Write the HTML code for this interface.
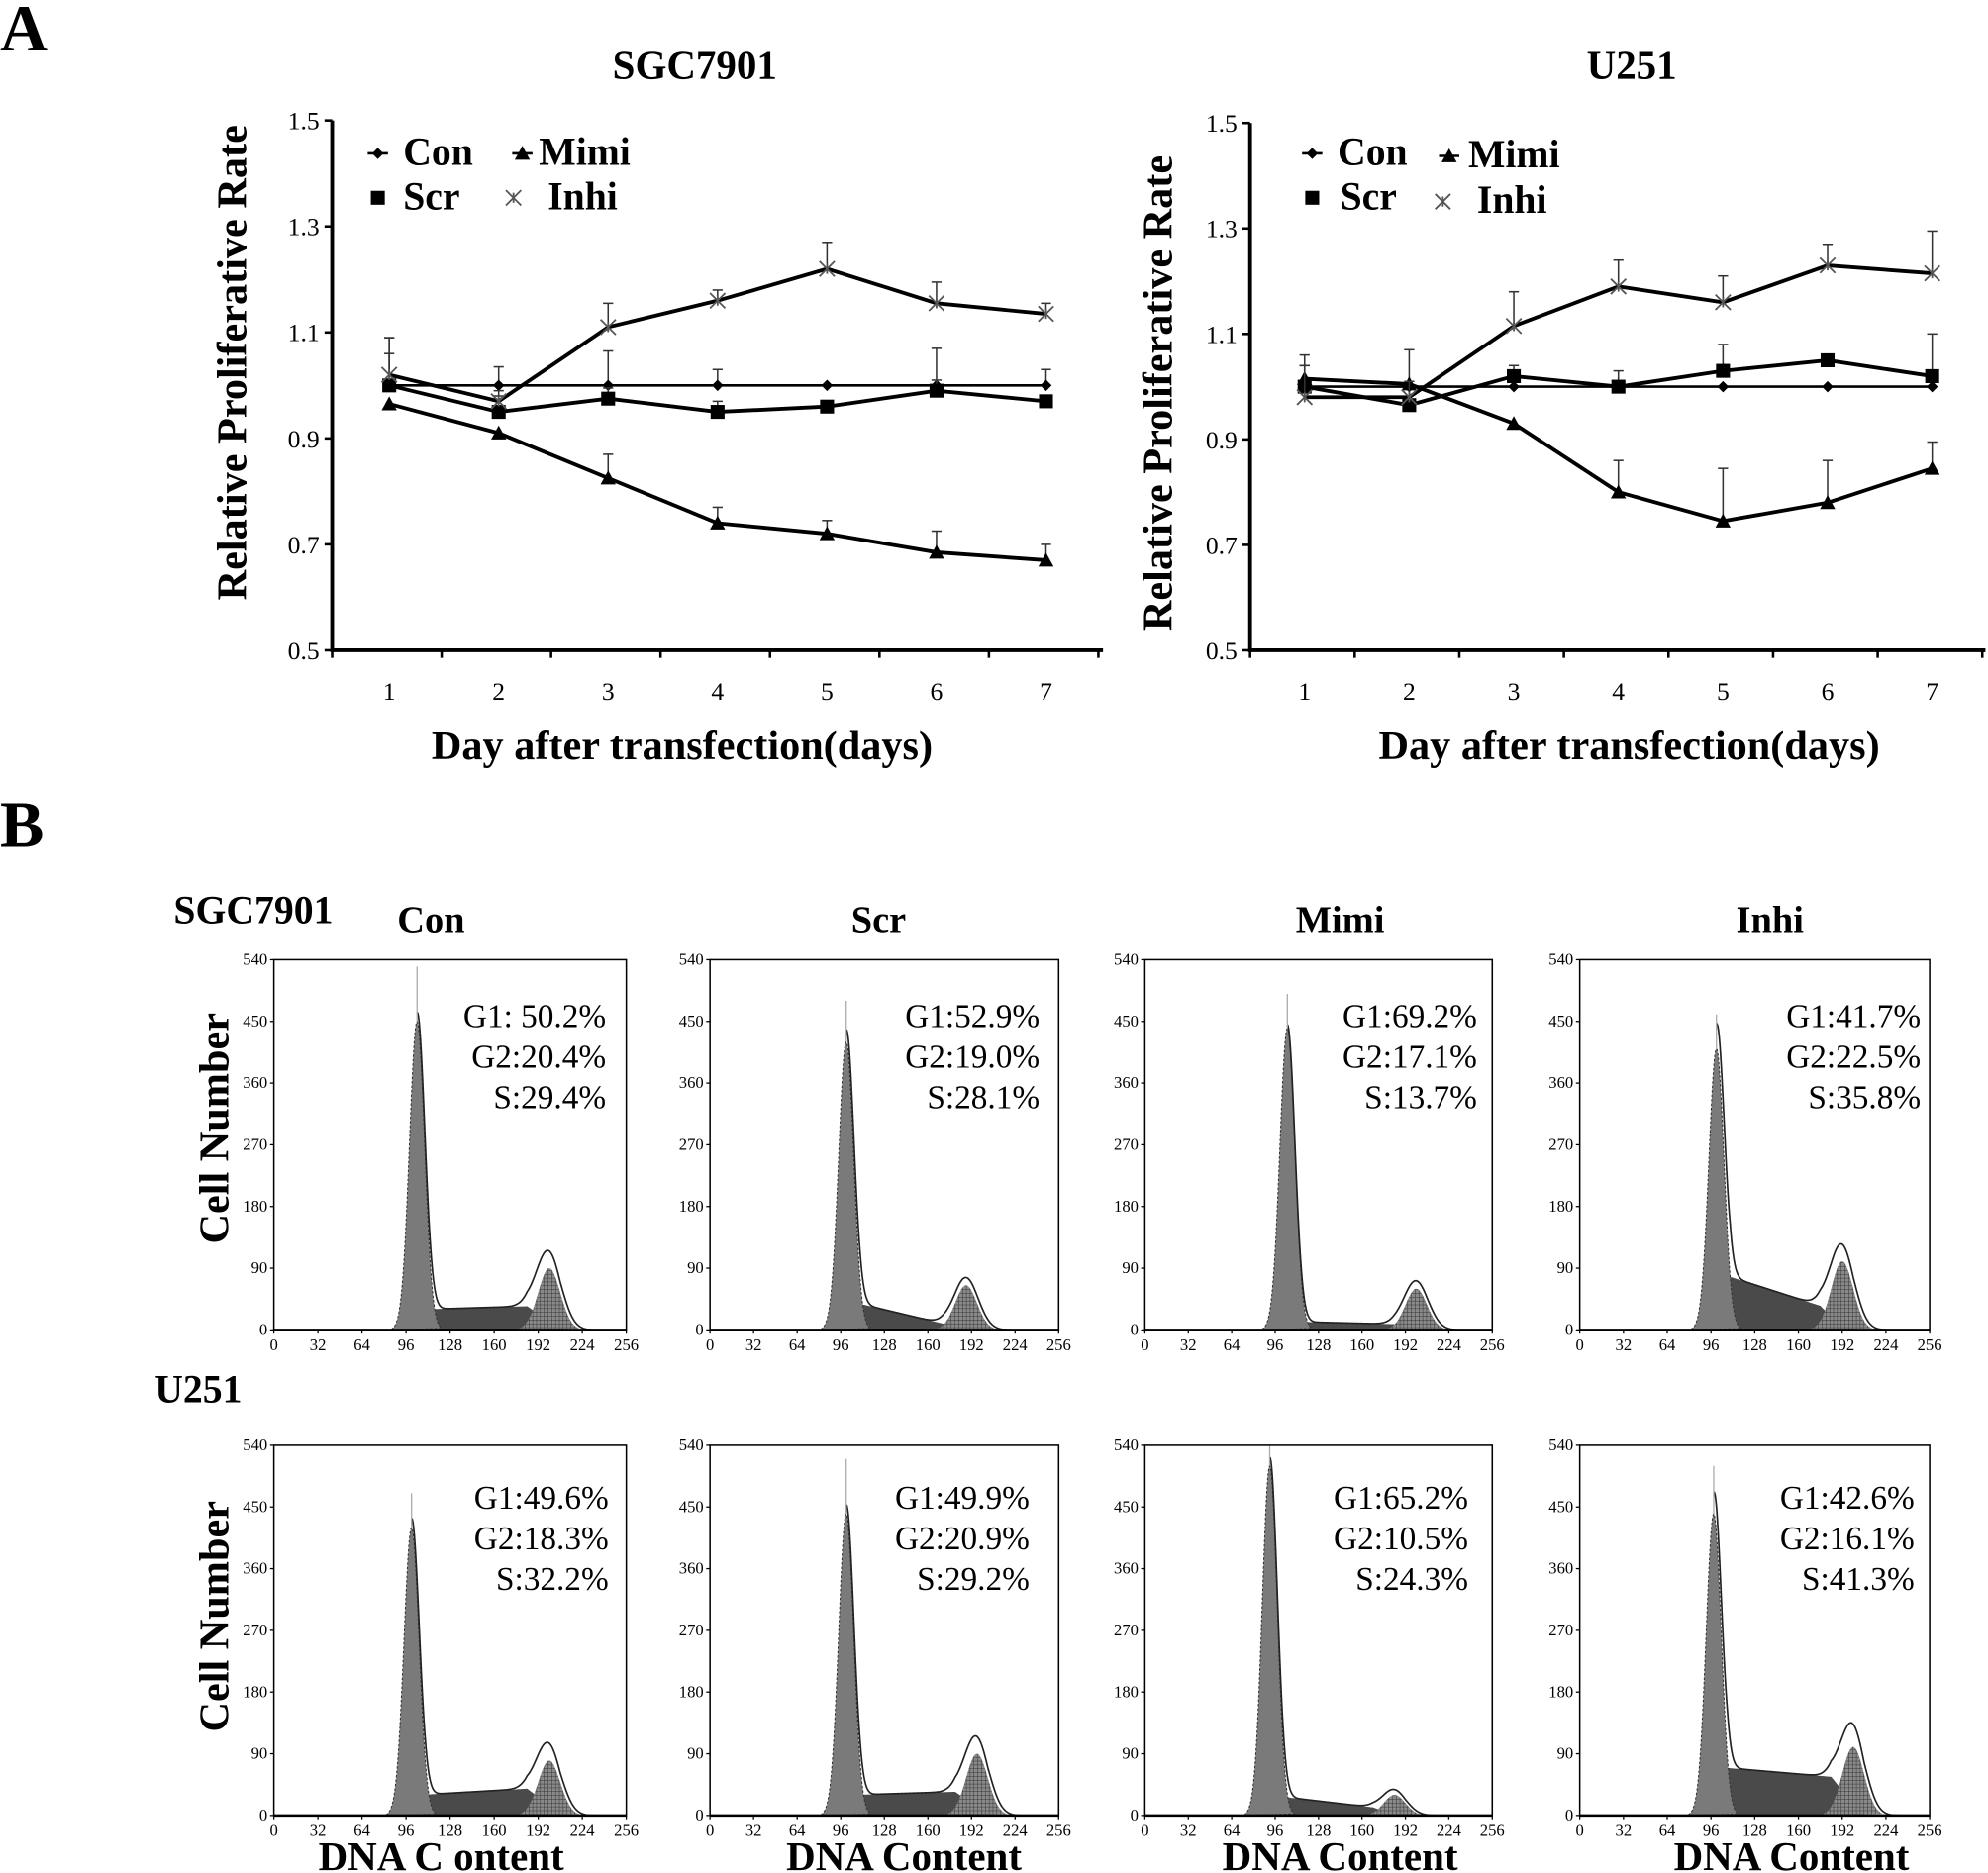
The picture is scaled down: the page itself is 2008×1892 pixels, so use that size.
<!DOCTYPE html>
<html><head><meta charset="utf-8"><style>
html,body{margin:0;padding:0;background:#fff;}
svg{display:block;font-family:"Liberation Serif",serif;}
</style></head><body>
<svg id="fig" width="2008" height="1892" viewBox="0 0 1568 1477.4" preserveAspectRatio="none" xmlns="http://www.w3.org/2000/svg">
<defs>
<pattern id="hatch" width="3" height="3" patternUnits="userSpaceOnUse"><rect width="3" height="3" fill="#8a8a8a"/><path d="M0 0H3M0 0V3" stroke="#333" stroke-width="0.8"/></pattern>
</defs>
<text x="0" y="40" font-size="52" font-weight="bold">A</text>
<text x="0" y="668" font-size="52" font-weight="bold">B</text>
<g id="charts"></g>
<g id="hists"></g>
</svg>
<script>
const days = [1,2,3,4,5,6,7];
const yTicks = [0.5,0.7,0.9,1.1,1.3,1.5];
const seriesNames = ["Con","Scr","Mimi","Inhi"];
// SGC7901
const sgcCon = [1.00,1.00,1.00,1.00,1.00,1.00,1.00];
const sgcConErr = [0.09,0.035,0.065,0.03,0,0.07,0.03];
const sgcScr = [1.00,0.95,0.975,0.95,0.96,0.99,0.97];
const sgcScrErr = [0.06,0.03,0.02,0.02,0.01,0.02,0.01];
const sgcMimi = [0.965,0.91,0.825,0.74,0.72,0.685,0.67];
const sgcMimiErr = [0,0,0.045,0.03,0.025,0.04,0.03];
const sgcInhi = [1.02,0.97,1.11,1.16,1.22,1.155,1.135];
const sgcInhiErr = [0.07,0.02,0.045,0.02,0.05,0.04,0.02];
// U251
const uCon = [1.00,1.00,1.00,1.00,1.00,1.00,1.00];
const uConErr = [0.04,0,0,0,0,0,0];
const uScr = [1.00,0.965,1.02,1.00,1.03,1.05,1.02];
const uScrErr = [0.04,0.105,0.02,0.03,0.05,0.01,0.08];
const uMimi = [1.015,1.005,0.93,0.80,0.745,0.78,0.845];
const uMimiErr = [0.045,0,0,0.06,0.1,0.08,0.05];
const uInhi = [0.98,0.98,1.115,1.19,1.16,1.23,1.215];
const uInhiErr = [0.06,0.03,0.065,0.05,0.05,0.04,0.08];

const NS="http://www.w3.org/2000/svg";
function mk(tag,attrs,parent,text){const e=document.createElementNS(NS,tag);for(const k in attrs)e.setAttribute(k,attrs[k]);if(text!==undefined)e.textContent=text;parent.appendChild(e);return e;}

function marker(g,type,x,y){
  if(type==="Con") return mk("path",{d:`M${x} ${y-4.5}L${x+4.5} ${y}L${x} ${y+4.5}L${x-4.5} ${y}Z`,fill:"#000"},g);
  if(type==="Scr") return mk("rect",{x:x-5.5,y:y-5.5,width:11,height:11,fill:"#000"},g);
  if(type==="Mimi") return mk("path",{d:`M${x} ${y-6}L${x+6} ${y+5}L${x-6} ${y+5}Z`,fill:"#000"},g);
  return mk("path",{d:`M${x-6} ${y-6}L${x+6} ${y+6}M${x-6} ${y+6}L${x+6} ${y-6}M${x} ${y-4}V${y+4}`,stroke:"#555","stroke-width":1.4,fill:"none"},g);
}

function chart(cfg){
  const root=document.getElementById("charts");
  const g=mk("g",{},root);
  
  
  const X=d=>cfg.x1+(d-1)*(cfg.x7-cfg.x1)/6;
  const Y=v=>cfg.y0+(v-0.5)/(1.0)*(cfg.y1-cfg.y0);
  const t=mk("text",{x:cfg.tx,y:62,"font-size":32,"font-weight":"bold","text-anchor":"middle"},g,cfg.title);
  
  
  mk("line",{x1:cfg.ax,y1:Y(1.5),x2:cfg.ax,y2:Y(0.5)+1.5,stroke:"#000","stroke-width":3},g);
  mk("line",{x1:cfg.ax,y1:Y(0.5),x2:cfg.axEnd,y2:Y(0.5),stroke:"#000","stroke-width":3},g);
  yTicks.forEach(v=>{
    mk("line",{x1:cfg.ax-6,y1:Y(v),x2:cfg.ax,y2:Y(v),stroke:"#000","stroke-width":2},g);
    const l=mk("text",{x:cfg.ax-10,y:Y(v)+7,"font-size":20,"text-anchor":"end"},g,v.toFixed(1));
    
    
  });
  const sp=(cfg.x7-cfg.x1)/6;
  for(let i=0;i<=7;i++){const xx=cfg.ax+i*sp;mk("line",{x1:xx,y1:Y(0.5),x2:xx,y2:Y(0.5)+6,stroke:"#000","stroke-width":2},g);}
  days.forEach(d=>{
    const l=mk("text",{x:X(d),y:Y(0.5)+39,"font-size":20,"text-anchor":"middle"},g,String(d));
    
    
  });
  const yt=mk("text",{x:0,y:0,"font-size":33,"font-weight":"bold","text-anchor":"middle",transform:`translate(${cfg.ylx},${cfg.yly}) rotate(-90)`},g,"Relative Proliferative Rate");
  
  
  const xt=mk("text",{x:cfg.xtx,y:599,"font-size":33,"font-weight":"bold","text-anchor":"middle"},g,"Day after transfection(days)");
  
  
  cfg.series.forEach(s=>{
    const sg=mk("g",{},g);
    
    
    s.vals.forEach((v,i)=>{ if(s.err[i]>0) {
      mk("line",{x1:X(days[i]),y1:Y(v),x2:X(days[i]),y2:Y(v+s.err[i]),stroke:"#333","stroke-width":1.2},sg);
      mk("line",{x1:X(days[i])-4,y1:Y(v+s.err[i]),x2:X(days[i])+4,y2:Y(v+s.err[i]),stroke:"#333","stroke-width":1.2},sg);}});
    mk("polyline",{points:s.vals.map((v,i)=>X(days[i])+","+Y(v)).join(" "),fill:"none",stroke:"#000","stroke-width":s.name==="Con"?2:3},sg);
    s.vals.forEach((v,i)=>{const m=marker(sg,s.name,X(days[i]),Y(v));
      
      });
  });
  const lg=mk("g",{},g);
  
  
  cfg.legend.forEach(e=>{
    marker(lg,e.n,e.mx,e.y-9);
    if(e.n==="Con"||e.n==="Mimi") mk("line",{x1:e.mx-8,y1:e.y-9,x2:e.mx+8,y2:e.y-9,stroke:"#000","stroke-width":2},lg);
    const tx=mk("text",{x:e.tx,y:e.y,"font-size":31,"font-weight":"bold"},lg,e.n);
    
    
  });
}
chart({name:"chart-sgc7901",title:"SGC7901",tx:548,ax:262,axEnd:870,x1:307,x7:825,y0:513,y1:95,ylx:194,yly:286,xtx:538,
  series:[{name:"Con",vals:sgcCon,err:sgcConErr},{name:"Scr",vals:sgcScr,err:sgcScrErr},{name:"Mimi",vals:sgcMimi,err:sgcMimiErr},{name:"Inhi",vals:sgcInhi,err:sgcInhiErr}],
  legend:[{n:"Con",mx:298,tx:318,y:130},{n:"Mimi",mx:412,tx:425,y:130},{n:"Scr",mx:298,tx:318,y:165},{n:"Inhi",mx:405,tx:432,y:165}]});
chart({name:"chart-u251",title:"U251",tx:1287,ax:986,axEnd:1566,x1:1029,x7:1524,y0:513,y1:97,ylx:924,yly:310,xtx:1285,
  series:[{name:"Con",vals:uCon,err:uConErr},{name:"Scr",vals:uScr,err:uScrErr},{name:"Mimi",vals:uMimi,err:uMimiErr},{name:"Inhi",vals:uInhi,err:uInhiErr}],
  legend:[{n:"Con",mx:1035,tx:1055,y:130},{n:"Mimi",mx:1143,tx:1158,y:132},{n:"Scr",mx:1035,tx:1057,y:165},{n:"Inhi",mx:1138,tx:1165,y:168}]});

// Histograms (row-major: SGC7901 Con,Scr,Mimi,Inhi ; U251 Con,Scr,Mimi,Inhi)
const histConditions = ["Con","Scr","Mimi","Inhi"];
const g1Pos = [104,100,105,100, 100,100,92,98];
const g1Height = [450,420,440,410, 420,440,510,440];
const g1Raw = [530,480,490,460, 470,520,540,510];
const g2Pos = [200,188,200,192, 200,196,184,200];
const g2Height = [90,65,60,100, 80,90,30,100];
const sStart = [30,40,12,80, 30,30,28,70];
const sEnd = [35,5,8,30, 40,35,10,55];
const g1Pct = ["G1: 50.2%","G1:52.9%","G1:69.2%","G1:41.7%","G1:49.6%","G1:49.9%","G1:65.2%","G1:42.6%"];
const g2Pct = ["G2:20.4%","G2:19.0%","G2:17.1%","G2:22.5%","G2:18.3%","G2:20.9%","G2:10.5%","G2:16.1%"];
const sPct = ["S:29.4%","S:28.1%","S:13.7%","S:35.8%","S:32.2%","S:29.2%","S:24.3%","S:41.3%"];
const xTicksH = [0,32,64,96,128,160,192,224,256];
const yTicksH = [0,90,180,270,360,450,540];

const colX=[216,560,903,1246], colW=[278,275,274,276];
const rowY=[757,1140], rowH=[292,292];
const statEnd=[478,820,1165,1515, 480,812,1158,1510];
const statY=[810,1190];
const hroot=document.getElementById("hists");
function lbl(txt,x,y,fs,name,extra){const t=mk("text",Object.assign({x:x,y:y,"font-size":fs,"font-weight":"bold"},extra||{}),hroot,txt);}
lbl("SGC7901",137,728,31,"row-label-sgc7901");
lbl("U251",122,1106,31,"row-label-u251");
[["Con",340],["Scr",693],["Mimi",1057],["Inhi",1396]].forEach(c=>lbl(c[0],c[1],735,30,"column-title-"+c[0].toLowerCase(),{"text-anchor":"middle"}));
lbl("Cell Number",0,0,33,"cell-number-title-row1",{"text-anchor":"middle",transform:"translate(180,890) rotate(-90)"});
lbl("Cell Number",0,0,33,"cell-number-title-row2",{"text-anchor":"middle",transform:"translate(180,1275) rotate(-90)"});
[["DNA C ontent",348],["DNA Content",713],["DNA Content",1057],["DNA Content",1413]].forEach((c,i)=>lbl(c[0],c[1],1475,32,"x-axis-title-col"+(i+1),{"text-anchor":"middle"}));

function gauss(x,m,s){return Math.exp(-0.5*((x-m)/s)**2);}
for(let p=0;p<8;p++){
  const r=Math.floor(p/4), c=p%4;
  const bx=colX[c], by=rowY[r], bw=colW[c], bh=rowH[r];
  const X=ch=>bx+ch/256*bw, Y=v=>by+bh-v/540*bh;
  const g=mk("g",{},hroot);
  
  
  const sA=g1Pos[p]+6, sB=g2Pos[p]-8;
  const sVal=ch=>{
    let rise=Math.min(1,Math.max(0,(ch-(g1Pos[p]-8))/18));
    let fall=Math.min(1,Math.max(0,((g2Pos[p]+8)-ch)/24));
    let t=(ch-sA)/(sB-sA); t=Math.min(1,Math.max(0,t));
    return (sStart[p]+(sEnd[p]-sStart[p])*t)*rise*fall;
  };
  let dS="M"+X(g1Pos[p]-8)+","+Y(0);
  for(let ch=g1Pos[p]-8;ch<=g2Pos[p]+8;ch+=1) dS+="L"+X(ch)+","+Y(sVal(ch));
  mk("path",{d:dS+"L"+X(g2Pos[p]+8)+","+Y(0)+"Z",fill:"#4a4a4a"},g);
  const s1=5.5;
  let d1="M"+X(g1Pos[p]-18)+","+Y(0);
  for(let ch=g1Pos[p]-18;ch<=g1Pos[p]+18;ch+=0.5) d1+="L"+X(ch)+","+Y(g1Height[p]*gauss(ch,g1Pos[p],s1));
  mk("path",{d:d1+"Z",fill:"#7a7a7a",stroke:"#333","stroke-width":0.8,"stroke-dasharray":"2,1.5"},g);
  let d2="M"+X(g2Pos[p]-22)+","+Y(0);
  for(let ch=g2Pos[p]-22;ch<=g2Pos[p]+22;ch+=0.5) d2+="L"+X(ch)+","+Y(g2Height[p]*gauss(ch,g2Pos[p],8));
  mk("path",{d:d2+"Z",fill:"url(#hatch)"},g);
  let dE="";
  for(let ch=g1Pos[p];ch<=256;ch+=0.5){
    const v=g1Height[p]*gauss(ch,g1Pos[p],s1)+sVal(ch)+(g2Height[p]*1.15)*gauss(ch,g2Pos[p],9);
    dE+=(dE?"L":"M")+X(ch)+","+Y(v);
  }
  mk("path",{d:dE,fill:"none",stroke:"#222","stroke-width":1.3},g);
  mk("line",{x1:X(g1Pos[p]),y1:Y(g1Height[p]),x2:X(g1Pos[p]),y2:Y(g1Raw[p]),stroke:"#aaa","stroke-width":1},g);
  mk("rect",{x:bx,y:by,width:bw,height:bh,fill:"none",stroke:"#000","stroke-width":1.2},g);
  mk("line",{x1:bx,y1:by+bh,x2:bx+bw,y2:by+bh,stroke:"#000","stroke-width":2},g);
  yTicksH.forEach(v=>{mk("line",{x1:bx-3,y1:Y(v),x2:bx,y2:Y(v),stroke:"#000"},g);
    const t=mk("text",{x:bx-5,y:Y(v)+4,"font-size":13,"text-anchor":"end"},g,String(v));
    });
  xTicksH.forEach(v=>{mk("line",{x1:X(v),y1:by+bh,x2:X(v),y2:by+bh+3,stroke:"#000"},g);
    const t=mk("text",{x:X(v),y:by+bh+16,"font-size":13,"text-anchor":"middle"},g,String(v));
    });
  [g1Pct[p],g2Pct[p],sPct[p]].forEach((s,i)=>{
    const t=mk("text",{x:statEnd[p],y:statY[r]+i*32,"font-size":26,"text-anchor":"end"},g,s);
    });
}
</script>
</body></html>
